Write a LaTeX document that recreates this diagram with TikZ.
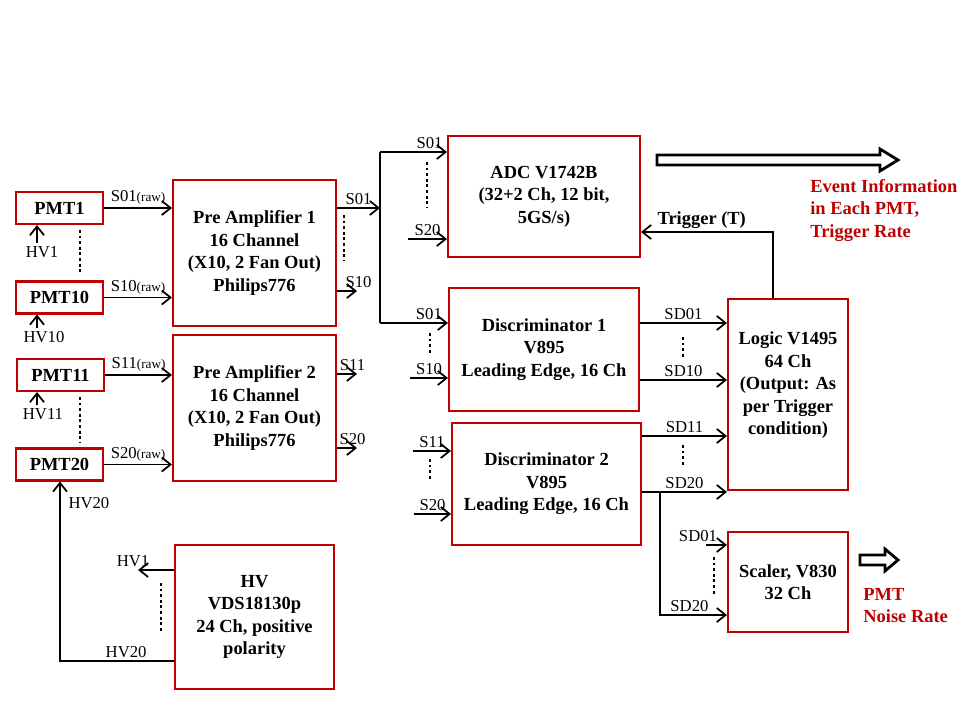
\documentclass[tikz,border=0pt]{standalone}
\usepackage{fontspec}
\setmainfont{Liberation Serif}
\usetikzlibrary{arrows.meta}
\definecolor{boxred}{RGB}{192,0,0}

\begin{document}
\begin{tikzpicture}[
    x=0.02cm, y=-0.02cm,
    box/.style={rectangle, draw=boxred, line width=1.2pt, align=center, inner sep=1pt,
                font=\bfseries\fontsize{10.5}{12.8}\selectfont},
    pmt/.style={box, minimum width=1.74cm, minimum height=0.64cm},
    lbl/.style={font=\fontsize{9.5}{11}\selectfont, inner sep=1.5pt},
    raw/.style={font=\fontsize{7.5}{9}\selectfont},
    arrow/.style={-{Straight Barb[length=5pt, width=8pt]}, line width=1pt},
    wire/.style={line width=1pt},
    dots/.style={line width=1.6pt, dash pattern=on 1.6pt off 1.6pt},
    outbox/.style={draw, line width=1.6pt, fill=white},
    note/.style={text=boxred, font=\bfseries\fontsize{10.5}{12.8}\selectfont, align=left, inner sep=0pt}
]
\useasboundingbox (0,0) rectangle (960,720);

\node (pmt1) [pmt] at (59.5,208) {PMT1};
\node (pmt10) [pmt] at (59.5,297.5) {PMT10};
\node (pmt11) [pmt] at (60.5,375) {PMT11};
\node (pmt20) [pmt] at (59.5,464.5) {PMT20};
\node (pre1) [box, minimum width=3.26cm, minimum height=2.92cm] at (254.5,253) {Pre Amplifier 1\\16 Channel\\(X10, 2 Fan Out)\\Philips776};
\node (pre2) [box, minimum width=3.26cm, minimum height=2.92cm] at (254.5,408) {Pre Amplifier 2\\16 Channel\\(X10, 2 Fan Out)\\Philips776};
\node (hv) [box, minimum width=3.18cm, minimum height=2.88cm] at (254.5,617) {HV\\VDS18130p\\24 Ch, positive\\polarity};
\node (adc) [box, minimum width=3.84cm, minimum height=2.42cm] at (544,196.5) {ADC V1742B\\(32+2 Ch, 12 bit,\\5GS/s)};
\node (disc1) [box, minimum width=3.8cm, minimum height=2.46cm] at (544,349.5) {Discriminator 1\\V895\\Leading Edge, 16 Ch};
\node (disc2) [box, minimum width=3.78cm, minimum height=2.44cm] at (546.5,484) {Discriminator 2\\V895\\Leading Edge, 16 Ch};
\node (logic) [box, minimum width=2.4cm, minimum height=3.82cm] at (788,394.5) {Logic V1495\\64 Ch\\(Output: As\\per Trigger\\condition)\\\mbox{}};
\node (scaler) [box, minimum width=2.4cm, minimum height=2cm] at (788,582) {Scaler, V830\\32 Ch};
\node (evtnote) [note, anchor=north west] at (810,179) {Event Information\\in Each PMT,\\Trigger Rate};
\node (noisenote) [note, anchor=north west] at (863,588) {PMT\\Noise Rate};

\draw[outbox] (657,155) -- (880,155) -- (880,149) -- (898,160) -- (880,171) -- (880,165) -- (657,165) -- cycle;
\draw[outbox] (860,555) -- (885,555) -- (885,549) -- (898,560) -- (885,571) -- (885,565) -- (860,565) -- cycle;

\draw[arrow] (pmt1.east) -- node[lbl, above]{S01\textnormal{\fontsize{7.5}{9}\selectfont(raw)}} (pmt1.east -| pre1.west);
\draw[arrow] (pmt10.east) -- node[lbl, above]{S10\textnormal{\fontsize{7.5}{9}\selectfont(raw)}} (pmt10.east -| pre1.west);
\draw[arrow] (pmt11.east) -- node[lbl, above]{S11\textnormal{\fontsize{7.5}{9}\selectfont(raw)}} (pmt11.east -| pre2.west);
\draw[arrow] (pmt20.east) -- node[lbl, above]{S20\textnormal{\fontsize{7.5}{9}\selectfont(raw)}} (pmt20.east -| pre2.west);

\coordinate (hv1in) at (37,243);
\coordinate (hv10in) at (37,328);
\coordinate (hv11in) at (37,405);
\draw[arrow] (hv1in) node[lbl, below, xshift=0.1cm]{HV1} -- (hv1in |- pmt1.south);
\draw[arrow] (hv10in) node[lbl, below, xshift=0.14cm]{HV10} -- (hv10in |- pmt10.south);
\draw[arrow] (hv11in) node[lbl, below, xshift=0.12cm]{HV11} -- (hv11in |- pmt11.south);
\draw[dots] (80,230) -- (80,274);
\draw[dots] (80,397) -- (80,442);

\coordinate (hv1out) at (138,570);
\draw[arrow] (hv.west |- hv1out) -- node[lbl, above, pos=1, xshift=-0.1cm]{HV1} (hv1out);
\draw[dots] (161,583) -- (161,633);
\draw[arrow] (hv.west |- 0,661) -- node[lbl, above, pos=0.42]{HV20} (60,661) -- node[lbl, right, pos=0.88, xshift=0.1cm]{HV20} (pmt20.south -| 60,0);

\coordinate (split) at (380,208);
\coordinate (splittop) at (380,152);
\coordinate (splitbot) at (380,323);
\draw[arrow] (pre1.east |- split) -- node[lbl, above]{S01} (split);
\draw[wire] (splittop) -- (splitbot);
\draw[arrow] (splittop) -- node[lbl, above, pos=0.74]{S01} (splittop -| adc.west);
\draw[arrow] (splitbot) -- node[lbl, above, pos=0.72]{S01} (splitbot -| disc1.west);
\draw[dots] (344,215) -- (344,260);

\coordinate (s10out) at (357,291);
\coordinate (s11out) at (357,374);
\coordinate (s20out) at (357,448);
\draw[arrow] (pre1.east |- s10out) -- node[lbl, above, xshift=0.23cm]{S10} (s10out);
\draw[arrow] (pre2.east |- s11out) -- node[lbl, above, xshift=0.11cm]{S11} (s11out);
\draw[arrow] (pre2.east |- s20out) -- node[lbl, above, xshift=0.11cm]{S20} (s20out);

\coordinate (adcs20) at (408,239);
\coordinate (d1s10) at (410,378);
\coordinate (d2s11) at (413,451);
\coordinate (d2s20) at (414,514);
\draw[arrow] (adcs20) -- node[lbl, above]{S20} (adcs20 -| adc.west);
\draw[arrow] (d1s10) -- node[lbl, above]{S10} (d1s10 -| disc1.west);
\draw[arrow] (d2s11) -- node[lbl, above]{S11} (d2s11 -| disc2.west);
\draw[arrow] (d2s20) -- node[lbl, above]{S20} (d2s20 -| disc2.west);
\draw[dots] (427,162) -- (427,207);
\draw[dots] (430,333) -- (430,353);
\draw[dots] (430,459) -- (430,480);

\draw[arrow] (disc1.east |- 0,323) -- node[lbl, above]{SD01} (logic.west |- 0,323);
\draw[arrow] (disc1.east |- 0,380) -- node[lbl, above]{SD10} (logic.west |- 0,380);
\draw[arrow] (disc2.east |- 0,436) -- node[lbl, above]{SD11} (logic.west |- 0,436);
\draw[arrow] (disc2.east |- 0,492) -- node[lbl, above]{SD20} (logic.west |- 0,492);
\draw[dots] (683,337) -- (683,357);
\draw[dots] (683,445) -- (683,465);

\coordinate (sdsplit) at (660,492);
\coordinate (scs01) at (706,545);
\draw[arrow] (sdsplit) |- node[lbl, above, pos=0.72]{SD20} (scaler.west |- 0,615);
\draw[arrow] (scs01) -- node[lbl, above, pos=0, xshift=-0.16cm]{SD01} (scs01 -| scaler.west);
\draw[dots] (714,557) -- (714,595);

\draw[arrow] (logic.north -| 773,0) |- node[above, pos=0.77, inner sep=1.5pt, font=\bfseries\fontsize{10.5}{12}\selectfont]{Trigger (T)} (adc.east |- 0,232);

\end{tikzpicture}
\end{document}
